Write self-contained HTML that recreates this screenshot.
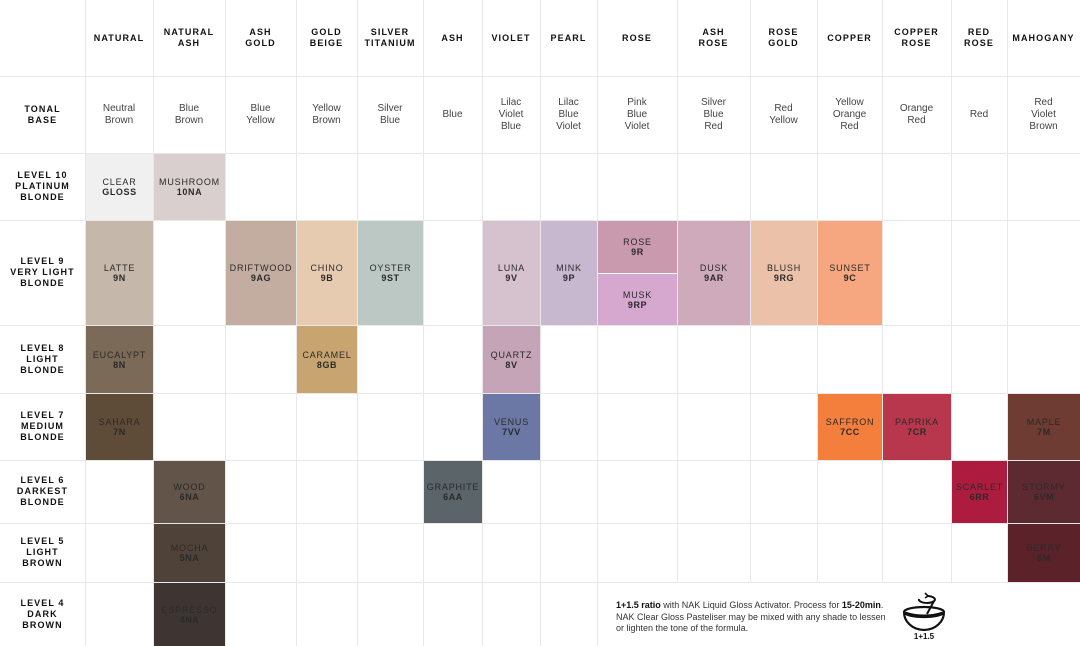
<!DOCTYPE html>
<html><head><meta charset="utf-8"><style>
body{margin:0;width:1080px;height:646px;background:#fff;position:relative;overflow:hidden;font-family:"Liberation Sans",sans-serif;color:#222}
.v{position:absolute;top:0;width:1px;background:#e8e8e8;height:646px}
.h{position:absolute;left:0;height:1px;background:#e8e8e8;width:1080px}
.c{position:absolute;display:flex;flex-direction:column;align-items:center;justify-content:center;text-align:center;font-size:9px;line-height:10px;letter-spacing:.8px}
.hd{font-weight:bold;font-size:9px;letter-spacing:1.1px;line-height:11px;color:#111}
.tb{font-size:10px;line-height:12px;color:#444;letter-spacing:0}
.sw{color:#2a2a2a}
.sw b{letter-spacing:.6px}
</style></head><body>
<div class="v" style="left:85px"></div><div class="v" style="left:153px"></div><div class="v" style="left:225px"></div><div class="v" style="left:296px"></div><div class="v" style="left:357px"></div><div class="v" style="left:423px"></div><div class="v" style="left:482px"></div><div class="v" style="left:540px"></div><div class="v" style="left:597px"></div><div class="v" style="left:677px"></div><div class="v" style="left:750px"></div><div class="v" style="left:817px"></div><div class="v" style="left:882px"></div><div class="v" style="left:951px"></div><div class="v" style="left:1007px"></div>
<div class="h" style="top:76px"></div><div class="h" style="top:153px"></div><div class="h" style="top:220px"></div><div class="h" style="top:325px"></div><div class="h" style="top:393px"></div><div class="h" style="top:460px"></div><div class="h" style="top:523px"></div><div class="h" style="top:582px"></div>
<div style="position:absolute;left:598px;top:583px;width:482px;height:63px;background:#fff"></div>

<div class="c hd" style="left:85px;top:0;width:68px;height:76px">NATURAL</div>
<div class="c hd" style="left:153px;top:0;width:72px;height:76px">NATURAL<br>ASH</div>
<div class="c hd" style="left:225px;top:0;width:71px;height:76px">ASH<br>GOLD</div>
<div class="c hd" style="left:296px;top:0;width:61px;height:76px">GOLD<br>BEIGE</div>
<div class="c hd" style="left:357px;top:0;width:66px;height:76px">SILVER<br>TITANIUM</div>
<div class="c hd" style="left:423px;top:0;width:59px;height:76px">ASH</div>
<div class="c hd" style="left:482px;top:0;width:58px;height:76px">VIOLET</div>
<div class="c hd" style="left:540px;top:0;width:57px;height:76px">PEARL</div>
<div class="c hd" style="left:597px;top:0;width:80px;height:76px">ROSE</div>
<div class="c hd" style="left:677px;top:0;width:73px;height:76px">ASH<br>ROSE</div>
<div class="c hd" style="left:750px;top:0;width:67px;height:76px">ROSE<br>GOLD</div>
<div class="c hd" style="left:817px;top:0;width:65px;height:76px">COPPER</div>
<div class="c hd" style="left:882px;top:0;width:69px;height:76px">COPPER<br>ROSE</div>
<div class="c hd" style="left:951px;top:0;width:56px;height:76px">RED<br>ROSE</div>
<div class="c hd" style="left:1007px;top:0;width:73px;height:76px">MAHOGANY</div>

<div class="c hd" style="left:0;top:76px;width:85px;height:77px">TONAL<br>BASE</div>
<div class="c tb" style="left:85px;top:76px;width:68px;height:77px">Neutral<br>Brown</div>
<div class="c tb" style="left:153px;top:76px;width:72px;height:77px">Blue<br>Brown</div>
<div class="c tb" style="left:225px;top:76px;width:71px;height:77px">Blue<br>Yellow</div>
<div class="c tb" style="left:296px;top:76px;width:61px;height:77px">Yellow<br>Brown</div>
<div class="c tb" style="left:357px;top:76px;width:66px;height:77px">Silver<br>Blue</div>
<div class="c tb" style="left:423px;top:76px;width:59px;height:77px">Blue</div>
<div class="c tb" style="left:482px;top:76px;width:58px;height:77px">Lilac<br>Violet<br>Blue</div>
<div class="c tb" style="left:540px;top:76px;width:57px;height:77px">Lilac<br>Blue<br>Violet</div>
<div class="c tb" style="left:597px;top:76px;width:80px;height:77px">Pink<br>Blue<br>Violet</div>
<div class="c tb" style="left:677px;top:76px;width:73px;height:77px">Silver<br>Blue<br>Red</div>
<div class="c tb" style="left:750px;top:76px;width:67px;height:77px">Red<br>Yellow</div>
<div class="c tb" style="left:817px;top:76px;width:65px;height:77px">Yellow<br>Orange<br>Red</div>
<div class="c tb" style="left:882px;top:76px;width:69px;height:77px">Orange<br>Red</div>
<div class="c tb" style="left:951px;top:76px;width:56px;height:77px">Red</div>
<div class="c tb" style="left:1007px;top:76px;width:73px;height:77px">Red<br>Violet<br>Brown</div>

<div class="c hd" style="left:0;top:153px;width:85px;height:67px">LEVEL 10<br>PLATINUM<br>BLONDE</div>
<div class="c hd" style="left:0;top:220px;width:85px;height:105px">LEVEL 9<br>VERY LIGHT<br>BLONDE</div>
<div class="c hd" style="left:0;top:325px;width:85px;height:68px">LEVEL 8<br>LIGHT<br>BLONDE</div>
<div class="c hd" style="left:0;top:393px;width:85px;height:67px">LEVEL 7<br>MEDIUM<br>BLONDE</div>
<div class="c hd" style="left:0;top:460px;width:85px;height:63px">LEVEL 6<br>DARKEST<br>BLONDE</div>
<div class="c hd" style="left:0;top:523px;width:85px;height:59px">LEVEL 5<br>LIGHT<br>BROWN</div>
<div class="c hd" style="left:0;top:582px;width:85px;height:64px">LEVEL 4<br>DARK<br>BROWN</div>

<div class="c sw" style="left:86px;top:154px;width:67px;height:66px;background:#f0f0f0">CLEAR<b>GLOSS</b></div>
<div class="c sw" style="left:154px;top:154px;width:71px;height:66px;background:#d9cfcf">MUSHROOM<b>10NA</b></div>

<div class="c sw" style="left:86px;top:221px;width:67px;height:104px;background:#c5b7aa">LATTE<b>9N</b></div>
<div class="c sw" style="left:226px;top:221px;width:70px;height:104px;background:#c2ada0">DRIFTWOOD<b>9AG</b></div>
<div class="c sw" style="left:297px;top:221px;width:60px;height:104px;background:#e6cbb1">CHINO<b>9B</b></div>
<div class="c sw" style="left:358px;top:221px;width:65px;height:104px;background:#bcc8c4">OYSTER<b>9ST</b></div>
<div class="c sw" style="left:483px;top:221px;width:57px;height:104px;background:#d6c2cf">LUNA<b>9V</b></div>
<div class="c sw" style="left:541px;top:221px;width:56px;height:104px;background:#c7b8cf">MINK<b>9P</b></div>
<div class="c sw" style="left:598px;top:221px;width:79px;height:52px;background:#c99aad">ROSE<b>9R</b></div>
<div class="c sw" style="left:598px;top:274px;width:79px;height:51px;background:#d6a7cf">MUSK<b>9RP</b></div>
<div class="c sw" style="left:678px;top:221px;width:72px;height:104px;background:#cfaabb">DUSK<b>9AR</b></div>
<div class="c sw" style="left:751px;top:221px;width:66px;height:104px;background:#ecc1a9">BLUSH<b>9RG</b></div>
<div class="c sw" style="left:818px;top:221px;width:64px;height:104px;background:#f7a77f">SUNSET<b>9C</b></div>

<div class="c sw" style="left:86px;top:326px;width:67px;height:67px;background:#7b6a58">EUCALYPT<b>8N</b></div>
<div class="c sw" style="left:297px;top:326px;width:60px;height:67px;background:#c8a570">CARAMEL<b>8GB</b></div>
<div class="c sw" style="left:483px;top:326px;width:57px;height:67px;background:#c5a4b8">QUARTZ<b>8V</b></div>

<div class="c sw" style="left:86px;top:394px;width:67px;height:66px;background:#5e4c38">SAHARA<b>7N</b></div>
<div class="c sw" style="left:483px;top:394px;width:57px;height:66px;background:#6b77a5">VENUS<b>7VV</b></div>
<div class="c sw" style="left:818px;top:394px;width:64px;height:66px;background:#f47e3c">SAFFRON<b>7CC</b></div>
<div class="c sw" style="left:883px;top:394px;width:68px;height:66px;background:#b8374c">PAPRIKA<b>7CR</b></div>
<div class="c sw" style="left:1008px;top:394px;width:72px;height:66px;background:#6e3c32">MAPLE<b>7M</b></div>

<div class="c sw" style="left:154px;top:461px;width:71px;height:62px;background:#625449">WOOD<b>6NA</b></div>
<div class="c sw" style="left:424px;top:461px;width:58px;height:62px;background:#5a6469">GRAPHITE<b>6AA</b></div>
<div class="c sw" style="left:952px;top:461px;width:55px;height:62px;background:#ad1c3e">SCARLET<b>6RR</b></div>
<div class="c sw" style="left:1008px;top:461px;width:72px;height:62px;background:#5e2a31">STORMY<b>6VM</b></div>

<div class="c sw" style="left:154px;top:524px;width:71px;height:58px;background:#4f4339">MOCHA<b>5NA</b></div>
<div class="c sw" style="left:1008px;top:524px;width:72px;height:58px;background:#5b2229">BERRY<b>5M</b></div>

<div class="c sw" style="left:154px;top:583px;width:71px;height:63px;background:#3e3431">ESPRESSO<b>4NA</b></div>

<div style="position:absolute;left:616px;top:600px;font-size:9px;line-height:11.5px;color:#333;width:300px;white-space:nowrap"><b style="color:#111">1+1.5 ratio</b> with NAK Liquid Gloss Activator. Process for <b style="color:#111">15-20min</b>.<br>NAK Clear Gloss Pasteliser may be mixed with any shade to lessen<br>or lighten the tone of the formula.</div>
<svg style="position:absolute;left:900px;top:590px" width="50" height="56" viewBox="0 0 50 56">
<path d="M19 9 a8 3.5 0 1 0 9 -3" fill="none" stroke="#111" stroke-width="2"/>
<path d="M25 3 l3 3 l-3 2" fill="none" stroke="#111" stroke-width="1.6"/>
<ellipse cx="24" cy="22" rx="20" ry="5" fill="none" stroke="#111" stroke-width="2.2"/>
<path d="M4 22 a20 18 0 0 0 40 0" fill="none" stroke="#111" stroke-width="2.2"/>
<path d="M5 23 q19 6 38 0" fill="none" stroke="#111" stroke-width="3"/>
<line x1="27" y1="24" x2="34" y2="11" stroke="#111" stroke-width="2"/>
<text x="24" y="49" text-anchor="middle" font-family="Liberation Sans" font-weight="bold" font-size="8" fill="#111">1+1.5</text>
</svg>
</body></html>
